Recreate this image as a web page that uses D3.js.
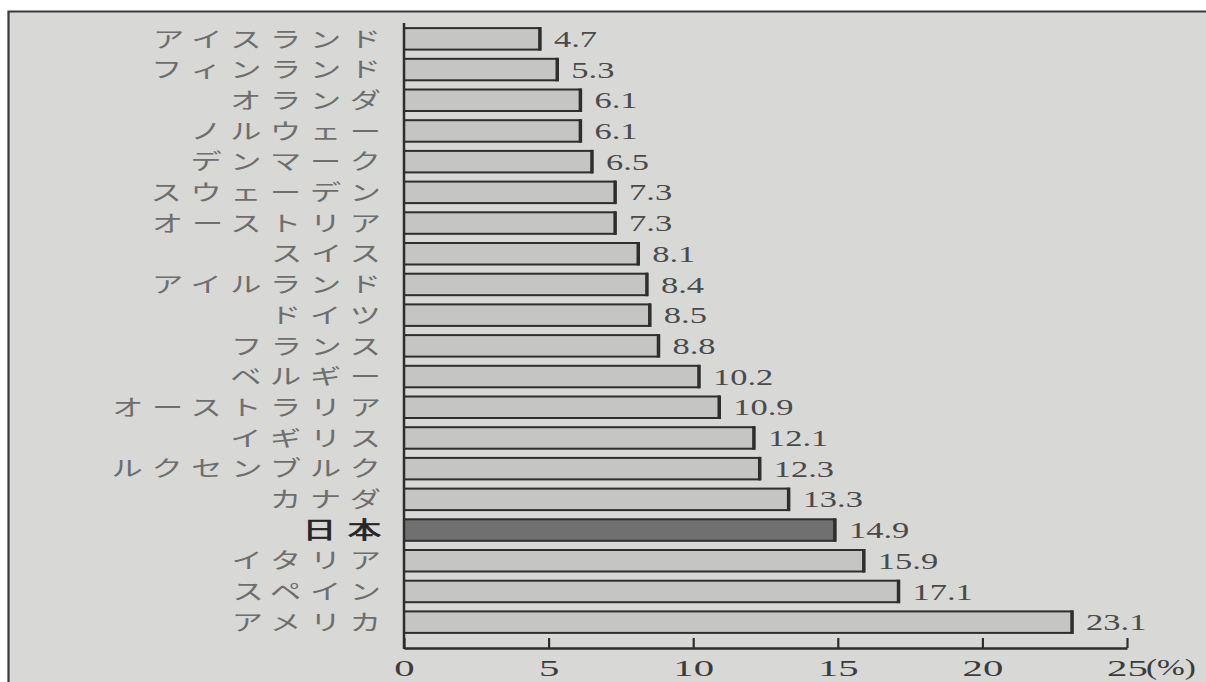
<!DOCTYPE html>
<html>
<head>
<meta charset="utf-8">
<script src="https://cdn.jsdelivr.net/npm/d3@7"></script>
<style>
  html, body { margin: 0; padding: 0; background: #ffffff; }
  svg { display: block; }
</style>
</head>
<body>
<svg id="chart" width="1206" height="682"></svg>
<script>
// Ratio by country (%), sorted ascending
const categories = [
  "アイスランド", "フィンランド", "オランダ", "ノルウェー", "デンマーク",
  "スウェーデン", "オーストリア", "スイス", "アイルランド", "ドイツ",
  "フランス", "ベルギー", "オーストラリア", "イギリス", "ルクセンブルク",
  "カナダ", "日本", "イタリア", "スペイン", "アメリカ"
];
const values = [
  4.7, 5.3, 6.1, 6.1, 6.5,
  7.3, 7.3, 8.1, 8.4, 8.5,
  8.8, 10.2, 10.9, 12.1, 12.3,
  13.3, 14.9, 15.9, 17.1, 23.1
];
const tickValues = [0, 5, 10, 15, 20, 25];
const unitLabel = "(%)";
const highlighted = "日本";

const data = categories.map((c, i) => ({ name: c, value: values[i] }));

const svg = d3.select("#chart");
const W = 1206, H = 682;

// page panel with a dark frame on top and left
svg.append("rect").attr("x", 0).attr("y", 0).attr("width", W).attr("height", H).attr("fill", "#ffffff");
svg.append("rect").attr("x", 8).attr("y", 11).attr("width", W - 8).attr("height", H - 11).attr("fill", "#d8d8d6");
svg.append("path")
  .attr("d", `M8.5,${H} V11.5 H${W}`)
  .attr("fill", "none").attr("stroke", "#3a3a3a").attr("stroke-width", 2.2);

const x = d3.scaleLinear().domain([0, 25]).range([404, 1127]);
const y = d3.scaleBand().domain(categories).range([23.5, 637.5])
  .paddingInner(0.3).paddingOuter(0.15);

const axisY = 648;
const ink = "#2e2e2e";

// bars
const bars = svg.append("g");
bars.selectAll("rect").data(data).join("rect")
  .attr("x", x(0))
  .attr("y", d => y(d.name))
  .attr("width", d => x(d.value) - x(0))
  .attr("height", y.bandwidth())
  .attr("fill", d => d.name === highlighted ? "#707070" : "#c5c5c4")
  .attr("stroke", ink)
  .attr("stroke-width", 2);
// heavier right edge on each bar
bars.selectAll("line").data(data).join("line")
  .attr("x1", d => x(d.value)).attr("x2", d => x(d.value))
  .attr("y1", d => y(d.name) - 1).attr("y2", d => y(d.name) + y.bandwidth() + 1)
  .attr("stroke", ink).attr("stroke-width", 3.5);

// value labels
const sxVal = 1.5;
svg.append("g").selectAll("text").data(data).join("text")
  .attr("transform", d => `translate(${x(d.value) + 14},${y(d.name) + y.bandwidth() / 2}) scale(${sxVal},1)`)
  .attr("dy", "0.35em")
  .attr("font-family", "'Liberation Serif', 'DejaVu Serif', serif")
  .attr("font-size", 23)
  .attr("fill", "#4a4a4a")
  .text(d => d.value.toFixed(1));

// category labels (wide-spaced katakana)
const sxCat = 1.45;
const catSpacing = d => d.name === highlighted ? 8 : 6;
svg.append("g").selectAll("text").data(data).join("text")
  .attr("transform", d => `translate(${381 + catSpacing(d) * sxCat},${y(d.name) + y.bandwidth() / 2}) scale(${sxCat},1)`)
  .attr("text-anchor", "end")
  .attr("dy", "0.36em")
  .attr("font-family", "'Noto Sans CJK JP', sans-serif")
  .attr("font-size", d => d.name === highlighted ? 23 : 21.5)
  .attr("font-weight", 400)
  .attr("letter-spacing", catSpacing)
  .attr("fill", d => d.name === highlighted ? "#262626" : "#6e6e6e")
  .attr("stroke", d => d.name === highlighted ? "#262626" : "none")
  .attr("stroke-width", 0.7)
  .text(d => d.name);

// value axis along the bottom, ticks pointing up into the plot
const xAxis = d3.axisBottom(x)
  .tickValues(tickValues)
  .tickSizeInner(-10)
  .tickSizeOuter(0)
  .tickPadding(11)
  .tickFormat(d3.format("d"));

const gx = svg.append("g").attr("transform", `translate(0,${axisY})`).call(xAxis);
gx.select(".domain").attr("stroke", ink).attr("stroke-width", 2.5);
gx.selectAll(".tick line").attr("stroke", ink).attr("stroke-width", 2.2);
gx.selectAll(".tick text")
  .attr("fill", "#3c3c3c")
  .attr("font-family", "'Liberation Serif', 'DejaVu Serif', serif")
  .attr("font-size", 24)
  .attr("transform", "scale(1.7,1)");

// unit after the last tick label
svg.append("text")
  .attr("transform", `translate(${x(25) + 19},${axisY + 11}) scale(1.45,1)`)
  .attr("dy", "0.71em")
  .attr("font-family", "'Liberation Serif', 'DejaVu Serif', serif")
  .attr("font-size", 23)
  .attr("fill", "#3c3c3c")
  .text(unitLabel);

// category axis line
svg.append("line")
  .attr("x1", x(0)).attr("x2", x(0))
  .attr("y1", 23).attr("y2", axisY + 1)
  .attr("stroke", ink).attr("stroke-width", 2.5);
</script>
</body>
</html>
